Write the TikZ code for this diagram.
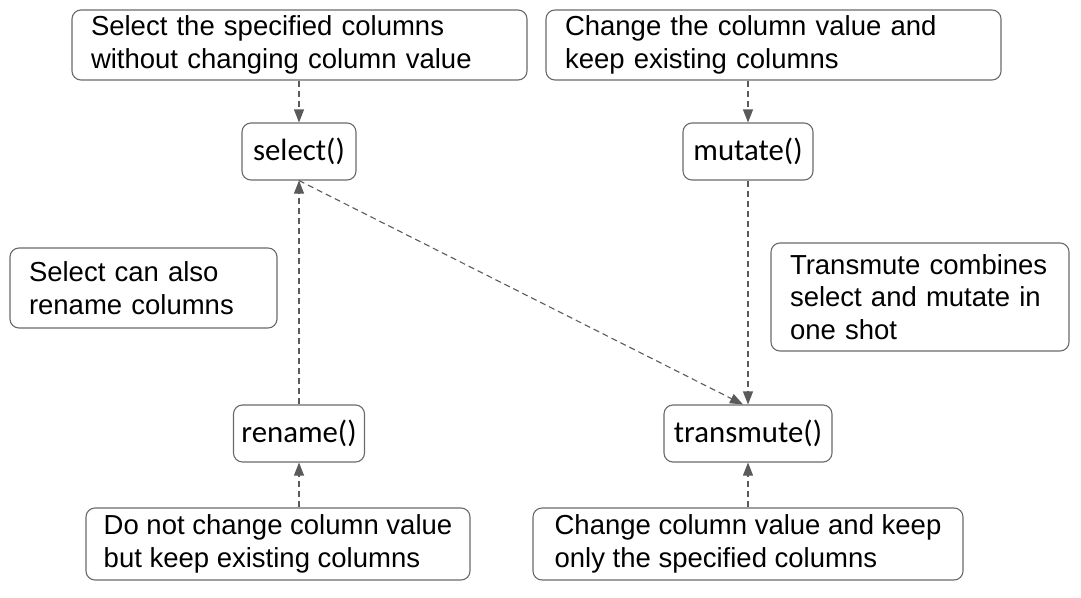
\documentclass[tikz,border=0pt]{standalone}
\usepackage{fontspec}
\setmainfont{Liberation Sans}
\newfontfamily\calib{Carlito}
\usetikzlibrary{arrows.meta,calc}
\definecolor{boxgray}{HTML}{6A6A6A}
\definecolor{arrgray}{HTML}{5A5A5A}
\begin{document}
\begin{tikzpicture}[x=1pt,y=-1pt,
  desc/.style={draw=boxgray, line width=1.1pt, rounded corners=9pt, align=left,
    font=\fontsize{27.5}{32.5}\selectfont, inner xsep=19pt, inner ysep=0pt, anchor=center},
  fn/.style={draw=boxgray, line width=1.1pt, rounded corners=9pt,
    font=\calib\fontsize{30.8}{34}\selectfont, inner sep=0pt, minimum height=57pt, anchor=center},
  conn/.style={draw=arrgray, line width=1.1pt, dash pattern=on 6pt off 4pt,
    -{Triangle[length=13pt,width=10pt]}}]
\useasboundingbox (0,0) rectangle (1081,597);

\node[desc, text width=417pt, minimum height=70pt] (d1) at (299.5,45) {Select the specified columns\\without changing column value};
\node[desc, text width=417pt, minimum height=70pt] (d2) at (773.5,45) {Change the column value and\\keep existing columns};
\node[desc, text width=229pt, minimum height=80pt] (d3) at (143.5,288) {Select can also\\rename columns};
\node[desc, text width=260pt, minimum height=108pt] (d4) at (920,297) {Transmute combines\\select and mutate in\\one shot};
\node[desc, inner xsep=0pt, minimum width=384pt, minimum height=72pt] (d5) at (278,544) {Do not change column value\\but keep existing columns};
\node[desc, inner xsep=0pt, minimum width=430pt, minimum height=72pt] (d6) at (748,544) {Change column value and keep\\only the specified columns};

\node[fn, minimum width=114pt] (sel) at (299,151.5) {select()};
\node[fn, minimum width=130pt] (mut) at (748,151.5) {mutate()};
\node[fn, minimum width=131pt] (ren) at (299,433.5) {rename()};
\node[fn, minimum width=168pt] (tra) at (748,433.5) {transmute()};

\draw[conn] (d1.south -| sel.north) -- (sel.north);
\draw[conn] (d2.south -| mut.north) -- (mut.north);
\draw[conn] (mut.south) -- (tra.north);
\draw[conn] (sel.south) -- ($(tra.north)+(-5,0)$);
\draw[conn] (ren.north) -- (sel.south);
\draw[conn] (d5.north -| ren.south) -- (ren.south);
\draw[conn] (d6.north -| tra.south) -- (tra.south);
\end{tikzpicture}
\end{document}
